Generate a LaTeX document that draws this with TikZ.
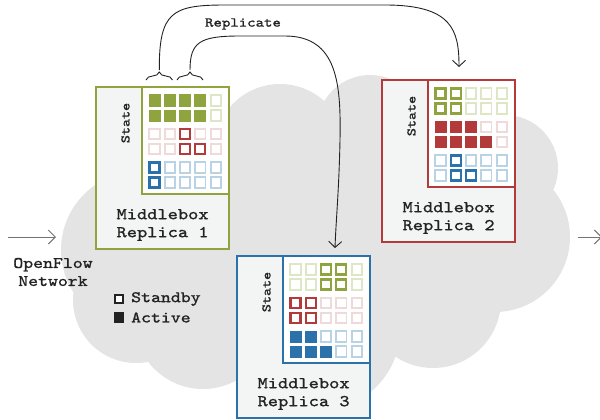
\documentclass[tikz,border=0pt]{standalone}
\usepackage{fontspec}
\newfontfamily\mono[FakeStretch=1.18,FakeBold=1.2]{lmmono10-regular.otf}
\usetikzlibrary{arrows.meta,decorations.pathreplacing}
\definecolor{cloud}{HTML}{E4E4E4}
\definecolor{boxfill}{HTML}{F3F4F4}
\definecolor{cg}{HTML}{8FA43F}
\definecolor{cgl}{HTML}{DFE6C6}
\definecolor{cr}{HTML}{B23A3A}
\definecolor{crl}{HTML}{EFDADA}
\definecolor{cb}{HTML}{2B72AA}
\definecolor{cbl}{HTML}{B9D3E4}
\definecolor{ink}{HTML}{222222}
\newcommand\cellrow[5]{%
  \foreach \t [count=\i from 0] in {#5}{%
    \pgfmathtruncatemacro\cc{mod(\i,5)}%
    \pgfmathtruncatemacro\rr{int(\i/5)}%
    \pgfmathsetmacro\xx{13.5+15.3*\cc}%
    \pgfmathsetmacro\yy{#2+15*\rr}%
    \ifcase\t\relax
      \draw[draw=#4, line width=1.9pt, fill=white] ([shift={(\xx,\yy)}]#1.north west) ++(-5.1,-5.1) rectangle ++(10.2,10.2);
    \or
      \draw[draw=#3, line width=2.1pt, fill=white] ([shift={(\xx,\yy)}]#1.north west) ++(-5.0,-5.0) rectangle ++(10.0,10.0);
    \or
      \fill[#3] ([shift={(\xx,\yy)}]#1.north west) ++(-6,-6) rectangle ++(12,12);
    \fi
  }}
\newcommand\stategrid[4]{%
  \cellrow{#1}{14.5}{cg}{cgl}{#2}%
  \cellrow{#1}{48}{cr}{crl}{#3}%
  \cellrow{#1}{81.5}{cb}{cbl}{#4}}
\begin{document}
\begin{tikzpicture}[x=1pt,y=-1pt,
  outer/.style={draw=#1, line width=2.2pt, fill=boxfill, minimum width=133pt, minimum height=162pt, anchor=north west, inner sep=0pt},
  innerbox/.style={draw=#1, line width=2.2pt, fill=white, minimum width=87pt, minimum height=107pt, anchor=north east, inner sep=0pt},
  mtext/.style={font=\mono\fontsize{16.5}{18}\selectfont, align=center, text=ink, inner sep=0pt},
  statetext/.style={font=\mono\fontsize{13}{14}\selectfont, rotate=90, text=ink, inner sep=0pt},
  lbl/.style={font=\mono\fontsize{16}{18}\selectfont, align=center, text=ink, inner sep=0pt},
  reparrow/.style={draw=ink, line width=0.9pt, -{Straight Barb[length=6pt,width=13pt]}},
  netarrow/.style={draw=gray!90!black, line width=1pt, -{Straight Barb[length=7pt,width=14pt]}},
  bracestyle/.style={draw=ink, line width=0.9pt, decorate, decoration={brace, amplitude=8pt}}
]
\useasboundingbox (0,0) rectangle (600,420);
% cloud
\fill[cloud] (280,150) circle (66pt) (370,128) circle (53pt) (440,150) circle (70pt)
  (505,168) circle (53pt) (495,237) circle (75pt) (433,300) circle (68pt)
  (320,330) circle (80pt) (203,320) circle (69pt) (136,300) circle (63pt)
  (140,250) circle (79pt) (300,240) circle (110pt) (400,200) circle (90pt);
% network arrows
\coordinate (inA) at (8,237);
\coordinate (inB) at (56,237);
\coordinate (outA) at (578,237);
\coordinate (outB) at (602,237);
\draw[netarrow] (inA) -- (inB);
\draw[netarrow] (outA) -- (outB);
\node[lbl] (net) at (53,272) {OpenFlow\\Network};
% replica 1
\node[outer=cg] (r1) at (95,86) {};
\node[innerbox=cg] (s1) at (r1.north east) {};
\node[statetext] (st1) at ([shift={(30.5,37)}]r1.north west) {State};
\node[mtext] (m1) at ([shift={(0,139)}]r1.north) {Middlebox\\Replica 1};
\stategrid{s1}{2,2,2,2,0,2,2,2,2,0}{0,0,1,0,0,0,0,1,1,0}{1,0,0,0,0,1,0,0,0,0}
% replica 2
\node[outer=cr] (r2) at (381,79) {};
\node[innerbox=cr] (s2) at (r2.north east) {};
\node[statetext] (st2) at ([shift={(30.5,37)}]r2.north west) {State};
\node[mtext] (m2) at ([shift={(0,139)}]r2.north) {Middlebox\\Replica 2};
\stategrid{s2}{1,1,0,0,0,1,1,0,0,0}{2,2,2,0,0,2,2,2,2,0}{0,1,0,0,0,0,1,1,0,0}
% replica 3
\node[outer=cb] (r3) at (236,255) {};
\node[innerbox=cb] (s3) at (r3.north east) {};
\node[statetext] (st3) at ([shift={(30.5,37)}]r3.north west) {State};
\node[mtext] (m3) at ([shift={(0,139)}]r3.north) {Middlebox\\Replica 3};
\stategrid{s3}{0,0,1,1,0,0,0,1,1,0}{1,1,0,0,0,1,1,0,0,0}{2,2,0,0,0,2,2,2,0,0}
% legend
\node[draw=ink, line width=1.8pt, fill=white, minimum size=8.4pt, inner sep=0pt] (sb) at (119,299) {};
\node[fill=ink, minimum size=10.5pt, inner sep=0pt] (ac) at (119,317.5) {};
\node[lbl, anchor=west] (sbt) at (131,299) {Standby};
\node[lbl, anchor=west] (act) at (131,317.5) {Active};
% braces and replicate arrows
\draw[bracestyle] (146,80) -- (172.5,80);
\draw[bracestyle] (177,80) -- (203,80);
\coordinate (b1) at (159.3,70);
\coordinate (b2) at (190,70);
\coordinate (t1) at (459,67);
\coordinate (t2) at (335,248);
\node[lbl, font=\mono\fontsize{13.6}{15}\selectfont] (rep) at (243,24) {Replicate};
\draw[reparrow] (b1) .. controls (159,12) and (172,5) .. (225,5) -- (385,5) .. controls (452,5) and (459,30) .. (t1);
\draw[reparrow] (b2) .. controls (190,42) and (200,36) .. (240,36) -- (285,36) .. controls (338,36) and (341,85) .. (340,140) .. controls (339,190) and (336,220) .. (t2);
\end{tikzpicture}
\end{document}
